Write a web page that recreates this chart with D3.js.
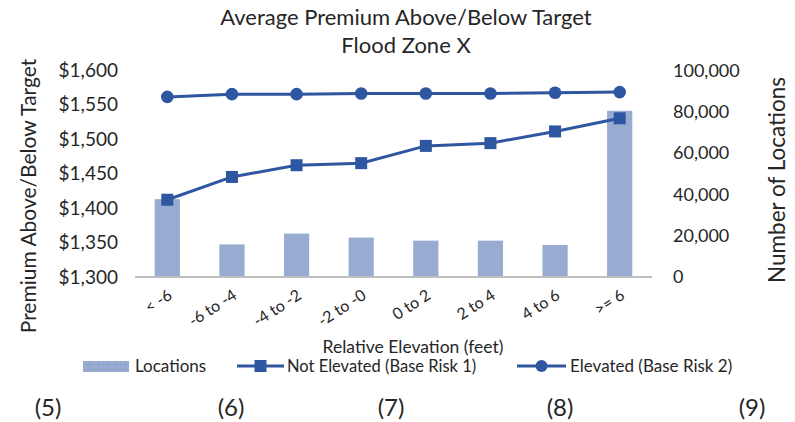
<!DOCTYPE html>
<html><head><meta charset="utf-8">
<script src="https://cdn.jsdelivr.net/npm/d3@7"></script>
<style>
body{margin:0;background:#fff;}
svg{display:block;}
text{font-family:Lato, "Open Sans", sans-serif;fill:#262626;}
</style></head>
<body><svg id="c" width="795" height="422"></svg>
<script>
const categories = ["< -6","-6 to -4","-4 to -2","-2 to -0","0 to 2","2 to 4","4 to 6",">= 6"];
const locations = [37700, 15800, 21000, 19100, 17600, 17600, 15500, 80500];
const notElevated = [1412, 1445, 1462, 1465, 1490, 1494, 1511, 1530];
const elevated = [1561, 1565, 1565, 1566, 1566, 1566, 1567, 1568];
const leftTicks = [1300,1350,1400,1450,1500,1550,1600];
const rightTicks = [0,20000,40000,60000,80000,100000];
const footLabels = ["(5)","(6)","(7)","(8)","(9)"];

const svg = d3.select("#c");
const barColor = "#98abd0", lineColor = "#2f56a1";
const x = d3.scaleBand().domain(categories).range([135,652]).padding(0);
const yL = d3.scaleLinear().domain([1300,1600]).range([277,70]);
const yR = d3.scaleLinear().domain([0,100000]).range([277,70.5]);
const bw = x.bandwidth()*0.39;
const cx = d => x(d)+x.bandwidth()/2;

// title
svg.append("text").attr("x",406).attr("y",25).attr("text-anchor","middle").style("font-size","22px").text("Average Premium Above/Below Target");
svg.append("text").attr("x",406).attr("y",53).attr("text-anchor","middle").style("font-size","22px").text("Flood Zone X");

// bars
svg.append("g").selectAll("rect").data(categories).join("rect")
  .attr("x",(d)=>cx(d)-bw/2).attr("width",bw)
  .attr("y",(d,i)=>yR(locations[i])).attr("height",(d,i)=>yR(0)-yR(locations[i]))
  .attr("fill",barColor);

// baseline
svg.append("line").attr("x1",135).attr("x2",652).attr("y1",yL(1300)).attr("y2",yL(1300)).attr("stroke","#bfbfbf").attr("stroke-width",2);

// left axis
const axL = svg.append("g").attr("transform","translate(121,0)").call(d3.axisLeft(yL).tickValues(leftTicks).tickSize(0).tickFormat(d=>"$"+d3.format(",")(d)));
axL.select(".domain").remove();
axL.selectAll("text").style("font-size","19px").attr("fill","#262626");
// right axis
const axR = svg.append("g").attr("transform","translate(670,0)").call(d3.axisRight(yR).tickValues(rightTicks).tickSize(0).tickFormat(d3.format(",")));
axR.select(".domain").remove();
axR.selectAll("text").style("font-size","18px").attr("fill","#262626");

// x labels
svg.append("g").selectAll("text").data(categories).join("text")
  .attr("text-anchor","end")
  .attr("transform",d=>`translate(${cx(d)+6},${298}) rotate(-33)`)
  .style("font-size","16px").text(d=>d);

// axis titles
svg.append("text").attr("transform","translate(36,196) rotate(-90)").attr("text-anchor","middle").style("font-size","21px").text("Premium Above/Below Target");
svg.append("text").attr("transform","translate(785,180) rotate(-90)").attr("text-anchor","middle").style("font-size","22.5px").text("Number of Locations");
svg.append("text").attr("x",413).attr("y",353).attr("text-anchor","middle").style("font-size","17.5px").text("Relative Elevation (feet)");

// lines
const line = d3.line().x(d=>cx(d[0])).y(d=>yL(d[1]));
const neData = categories.map((c,i)=>[c,notElevated[i]]);
const elData = categories.map((c,i)=>[c,elevated[i]]);
svg.append("path").datum(neData).attr("d",line).attr("fill","none").attr("stroke",lineColor).attr("stroke-width",3);
svg.append("path").datum(elData).attr("d",line).attr("fill","none").attr("stroke",lineColor).attr("stroke-width",3);
svg.append("g").selectAll("rect").data(neData).join("rect")
  .attr("x",d=>cx(d[0])-6).attr("y",d=>yL(d[1])-6).attr("width",12).attr("height",12).attr("fill",lineColor);
svg.append("g").selectAll("circle").data(elData).join("circle")
  .attr("cx",d=>cx(d[0])).attr("cy",d=>yL(d[1])).attr("r",6.3).attr("fill",lineColor);

// legend
const defs = svg.append("defs");
const pat = defs.append("pattern").attr("id","grid").attr("width",9).attr("height",5).attr("patternUnits","userSpaceOnUse");
pat.append("rect").attr("width",9).attr("height",5).attr("fill",barColor);
pat.append("path").attr("d","M9 0V5M0 5H9").attr("stroke","#7f93c0").attr("stroke-width",0.7);
const lg = svg.append("g");
lg.append("rect").attr("x",83).attr("y",361).attr("width",46).attr("height",11).attr("fill","url(#grid)");
lg.append("text").attr("x",135).attr("y",372).style("font-size","17px").text("Locations");
lg.append("line").attr("x1",237).attr("x2",284).attr("y1",366).attr("y2",366).attr("stroke",lineColor).attr("stroke-width",3);
lg.append("rect").attr("x",254.5).attr("y",360).attr("width",12).attr("height",12).attr("fill",lineColor);
lg.append("text").attr("x",287).attr("y",372).style("font-size","16.5px").text("Not Elevated (Base Risk 1)");
lg.append("line").attr("x1",517).attr("x2",566).attr("y1",366).attr("y2",366).attr("stroke",lineColor).attr("stroke-width",3);
lg.append("circle").attr("cx",541.5).attr("cy",366).attr("r",6).attr("fill",lineColor);
lg.append("text").attr("x",570).attr("y",372).style("font-size","17px").text("Elevated (Base Risk 2)");

// footer labels
const fx = [48,231,391,560,752];
svg.append("g").selectAll("text").data(footLabels).join("text")
  .attr("x",(d,i)=>fx[i]).attr("y",416).attr("text-anchor","middle").style("font-size","24px").text(d=>d);
</script></body></html>
